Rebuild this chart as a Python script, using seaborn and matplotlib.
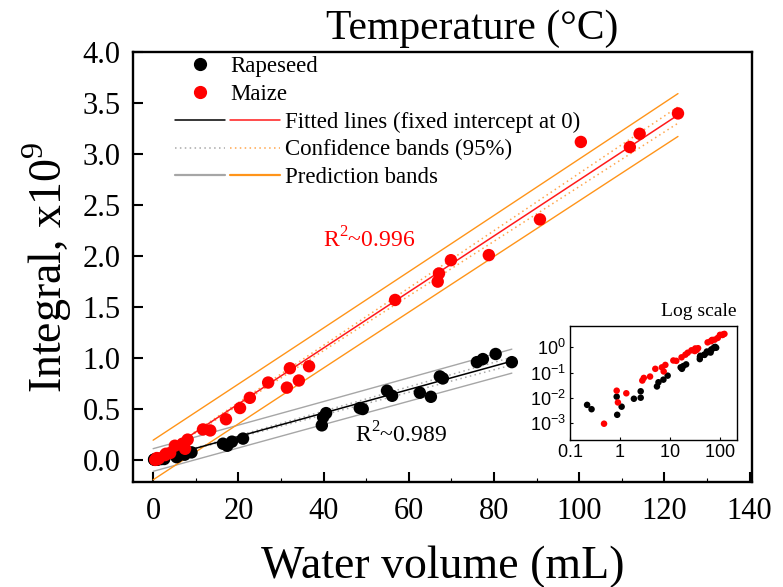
import numpy as np
import pandas as pd
import matplotlib
matplotlib.use("Agg")
import matplotlib.pyplot as plt
import seaborn as sns
from matplotlib.lines import Line2D
from matplotlib.legend_handler import HandlerTuple

# Measured integrals (x10^9) against water volume (mL)
rapeseed_volume = [0.22, 0.27, 0.86, 0.88, 1.08, 1.9, 2.6, 2.6, 5.5, 5.9, 7.4, 9.0,
                   16.4, 17.4, 18.5, 21.1, 39.6, 39.9, 40.6, 48.5, 49.2, 54.9, 56.1,
                   62.6, 65.2, 67.3, 68.0, 76.0, 77.4, 80.4, 84.2]
rapeseed_integral = [0.0052, 0.0035, 0.011, 0.0021, 0.0044, 0.0091, 0.010, 0.018,
                     0.028, 0.041, 0.052, 0.075, 0.16, 0.14, 0.18, 0.21, 0.34, 0.42,
                     0.46, 0.51, 0.50, 0.68, 0.63, 0.66, 0.62, 0.82, 0.80, 0.96,
                     0.99, 1.04, 0.96]
maize_volume = [0.48, 0.86, 0.91, 1.34, 2.8, 3.0, 4.0, 5.1, 6.9, 7.5, 8.1, 11.7,
                13.4, 17.1, 20.4, 22.7, 27.0, 31.4, 32.1, 34.2, 36.6, 56.8, 66.8,
                67.1, 69.9, 78.8, 90.8, 100.4, 111.9, 114.2, 123.2]
maize_integral = [0.00093, 0.019, 0.0065, 0.015, 0.048, 0.061, 0.069, 0.14, 0.16,
                  0.11, 0.20, 0.30, 0.29, 0.40, 0.51, 0.61, 0.76, 0.71, 0.90, 0.78,
                  0.92, 1.57, 1.75, 1.83, 1.96, 2.01, 2.36, 3.12, 3.07, 3.20, 3.40]
crops = ["Rapeseed", "Maize"]
r2_labels = {"Rapeseed": "0.989", "Maize": "0.996"}

df = pd.concat([
    pd.DataFrame({"volume": rapeseed_volume, "integral": rapeseed_integral, "crop": "Rapeseed"}),
    pd.DataFrame({"volume": maize_volume, "integral": maize_integral, "crop": "Maize"}),
], ignore_index=True)

point_colors = {"Rapeseed": "black", "Maize": "#ff0000"}
fit_colors = {"Rapeseed": "black", "Maize": "#ff1a1a"}
conf_colors = {"Rapeseed": "#a8a8a8", "Maize": "#ffa64d"}
pred_colors = {"Rapeseed": "#a6a6a6", "Maize": "#ff9419"}

sns.set_theme(style="ticks")
plt.rcParams["font.family"] = ["Liberation Serif", "DejaVu Serif"]
plt.rcParams["mathtext.fontset"] = "custom"
plt.rcParams["mathtext.rm"] = "Liberation Serif"
plt.rcParams["mathtext.sf"] = "Liberation Sans"
for key in ("text.color", "axes.labelcolor", "xtick.color", "ytick.color",
            "axes.edgecolor"):
    plt.rcParams[key] = "black"

fig = plt.figure(figsize=(7.83, 5.87), dpi=100)
ax = fig.add_axes([0.170, 0.179, 0.790, 0.732])

# Linear fits through the origin with 95% confidence and prediction bands
T_975 = 2.042  # Student t, df = 30
for crop in crops:
    sub = df[df["crop"] == crop]
    x = sub["volume"].to_numpy()
    y = sub["integral"].to_numpy()
    sxx = np.sum(x * x)
    slope = np.sum(x * y) / sxx
    s2 = np.sum((y - slope * x) ** 2) / (len(x) - 1)
    se_b = np.sqrt(s2 / sxx)
    xs = np.linspace(0, x.max(), 200)
    yfit = slope * xs
    conf = T_975 * se_b * xs
    pred = T_975 * np.sqrt(s2 + (xs * se_b) ** 2)
    ax.plot(xs, yfit, color=fit_colors[crop], lw=1.1, zorder=2)
    for sgn in (1, -1):
        ax.plot(xs, yfit + sgn * conf, color=conf_colors[crop], lw=1.1,
                ls=(0, (1, 2.2)), zorder=1)
        ax.plot(xs, yfit + sgn * pred, color=pred_colors[crop], lw=1.0, zorder=1)

sns.scatterplot(data=df, x="volume", y="integral", hue="crop", palette=point_colors,
                hue_order=crops, s=80, edgecolor="none", linewidth=0, legend=False,
                ax=ax, zorder=3)

ax.set_xlim(-4.7, 140.5)
ax.set_ylim(-0.215, 4.0)
ax.set_xticks(np.arange(0, 141, 20))
ax.set_xticks(np.arange(10, 140, 20), minor=True)
ax.set_yticks(np.arange(0, 4.01, 0.5))
ax.set_yticklabels([f"{v:.1f}" for v in np.arange(0, 4.01, 0.5)])
ax.tick_params(axis="both", which="major", direction="in", length=7, width=1.5,
               labelsize=22, top=False, right=False)
ax.tick_params(axis="x", which="major", pad=11)
ax.tick_params(axis="y", which="major", pad=9)
ax.tick_params(axis="x", which="minor", direction="in", length=3, width=0.8,
               top=False)
for sp in ax.spines.values():
    sp.set_visible(True)
    sp.set_linewidth(1.7)

ax.set_xlabel("Water volume (mL)", fontsize=33, labelpad=14)
ax.set_ylabel("Integral, x10$^9$", fontsize=33, labelpad=6)
fig.text(472 / 783, 1 - 29 / 587, "Temperature (°C)", fontsize=30,
         ha="center", va="center")

ax.text(39.8, 2.16, "R$^2$~" + r2_labels["Maize"], color="red", fontsize=17,
        ha="left", va="center")
ax.text(47.5, 0.25, "R$^2$~" + r2_labels["Rapeseed"], color="black", fontsize=17,
        ha="left", va="center")

# Legends
fs = 16.5
px_w, px_h = 783.0, 587.0
scatter_handles = [Line2D([], [], ls="none", marker="o", ms=8.5, color=point_colors[c])
                   for c in crops]
leg1 = ax.legend(scatter_handles, crops, loc="upper left", frameon=False,
                 fontsize=fs, handlelength=2.18, handletextpad=0.22, borderpad=0,
                 borderaxespad=0, labelspacing=0.3,
                 bbox_to_anchor=(175 / px_w, 1 - 56 / px_h),
                 bbox_transform=fig.transFigure)
ax.add_artist(leg1)

def pair(style):
    return tuple(Line2D([], [], **style[c]) for c in crops)

line_handles = [
    pair({c: dict(color=fit_colors[c], lw=1.1) for c in crops}),
    pair({c: dict(color=conf_colors[c], lw=1.1, ls=(0, (1, 2.2))) for c in crops}),
    pair({c: dict(color=pred_colors[c], lw=1.6) for c in crops}),
]
line_labels = ["Fitted lines (fixed intercept at 0)", "Confidence bands (95%)",
               "Prediction bands"]
ax.legend(line_handles, line_labels, loc="upper left", frameon=False, fontsize=fs,
          handlelength=4.58, handletextpad=0.22, borderpad=0, borderaxespad=0,
          labelspacing=0.27,
          handler_map={tuple: HandlerTuple(ndivide=None, pad=0.22)},
          bbox_to_anchor=(175 / px_w, 1 - 112 / px_h), bbox_transform=fig.transFigure)

# Inset on log-log axes
ins = fig.add_axes([570 / px_w, 1 - 440 / px_h, 167 / px_w, 114 / px_h])
sns.scatterplot(data=df, x="volume", y="integral", hue="crop", palette=point_colors,
                hue_order=crops, s=22, edgecolor="none", linewidth=0, legend=False,
                ax=ins, zorder=3)
ins.set_xscale("log")
ins.set_yscale("log")
ins.set_xlim(0.1, 220)
ins.set_ylim(2.1e-4, 7)
ins.set_xticks([0.1, 1, 10, 100])
ins.set_xticklabels([r"$\mathsf{0.1}$", r"$\mathsf{1}$", r"$\mathsf{10}$", r"$\mathsf{100}$"])
ins.set_yticks([1e-3, 1e-2, 1e-1, 1])
ins.set_yticklabels([r"$\mathsf{10^{-3}}$", r"$\mathsf{10^{-2}}$",
                     r"$\mathsf{10^{-1}}$", r"$\mathsf{10^{0}}$"])
ins.minorticks_off()
ins.tick_params(direction="in", length=2.5, width=0.8, labelsize=13, pad=3,
                top=False, right=False)
ins.set_xlabel("")
ins.set_ylabel("")
for sp in ins.spines.values():
    sp.set_visible(True)
    sp.set_linewidth(1.0)
fig.text(699 / px_w, 1 - 312 / px_h, "Log scale", fontsize=14, ha="center",
         va="center")

fig.savefig("out.png", dpi=100)
